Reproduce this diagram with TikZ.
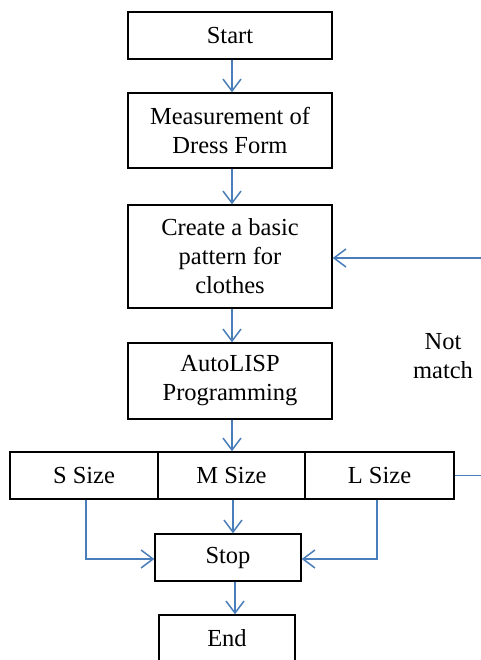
\documentclass[tikz,border=0pt]{standalone}
\usepackage{fontspec}
\setmainfont{Liberation Serif}
\usetikzlibrary{arrows.meta}
\definecolor{flowblue}{HTML}{4A7EBB}
\begin{document}
\begin{tikzpicture}[x=1pt,y=-1pt,
  box/.style={draw=black,line width=1.4pt,fill=white,align=center,inner sep=0pt,
    font=\fontsize{24.5}{29}\selectfont},
  flow/.style={draw=flowblue,line width=1.5pt,-{Straight Barb[length=12pt,width=18pt,line width=1.5pt]}},
  lbl/.style={align=center,font=\fontsize{24.5}{29}\selectfont}]
\useasboundingbox (0,0) rectangle (480,660);
\node[box,minimum width=204pt,minimum height=47pt] (start) at (230,35.5) {Start};
\node[box,minimum width=204pt,minimum height=75pt] (meas) at (230,130.5) {Measurement of\\Dress Form};
\node[box,minimum width=204pt,minimum height=103pt] (create) at (230,256.5) {Create a basic\\pattern for\\clothes};
\node[box,minimum width=204pt,minimum height=76pt] (auto) at (230,381) {AutoLISP\\Programming};
\node[box,minimum width=148pt,minimum height=47pt] (s) at (84,475.5) {S Size};
\node[box,minimum width=147pt,minimum height=47pt] (m) at (231.5,475.5) {M Size};
\node[box,minimum width=149pt,minimum height=47pt] (l) at (379.5,475.5) {L Size};
\node[box,minimum width=146pt,minimum height=47pt] (stop) at (228,557.5) {Stop};
\node[box,minimum width=136pt,minimum height=47pt] (end) at (227,638.5) {End};
\node[lbl] (nm) at (443,356) {Not\\match};
\coordinate (fb) at (492,258);
\draw[flow] (start.south -| 232,0) -- (meas.north -| 232,0);
\draw[flow] (meas.south -| 232,0) -- (create.north -| 232,0);
\draw[flow] (create.south -| 232,0) -- (auto.north -| 232,0);
\draw[flow] (auto.south -| 232,0) -- (m.north -| 232,0);
\draw[flow] (m.south -| 233,0) -- (stop.north -| 233,0);
\draw[flow] (stop.south -| 235,0) -- (end.north -| 235,0);
\draw[flow] (s.south -| 86,0) -- (86,559) -- (stop.west |- 0,559);
\draw[flow] (l.south -| 377,0) -- (377,559) -- (stop.east |- 0,559);
\draw[flow] (l.east) -- (l.east -| fb) -- (fb) -- (fb -| create.east);
\end{tikzpicture}
\end{document}
